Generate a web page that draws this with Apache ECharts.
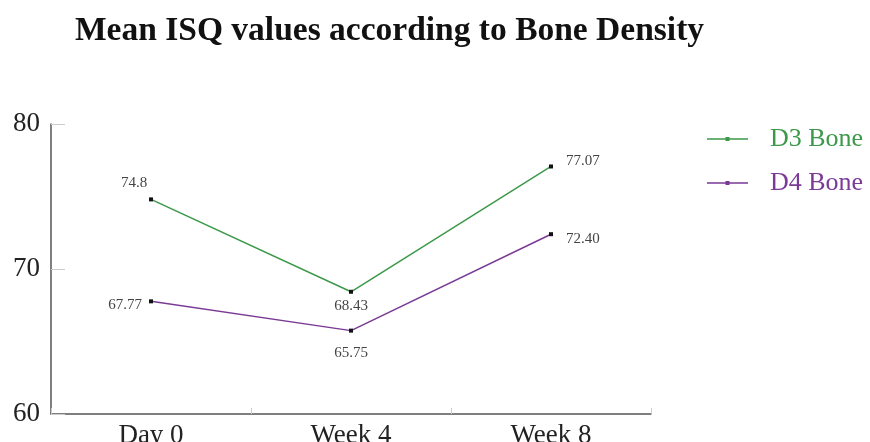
<!DOCTYPE html>
<html>
<head>
<meta charset="utf-8">
<script src="https://cdn.jsdelivr.net/npm/echarts@6/dist/echarts.min.js"></script>
<style>
  html, body { margin: 0; padding: 0; background: #fff; }
  #chart { width: 870px; height: 442px; }
</style>
</head>
<body>
<div id="chart"></div>
<script>
// Time points and mean ISQ per bone density class (labels kept as printed)
const categories = ['Day 0', 'Week 4', 'Week 8'];
const d3Labels = ['74.8', '68.43', '77.07'];
const d4Labels = ['67.77', '65.75', '72.40'];
const yTicks = [60, 70, 80];

const SERIF = "'Liberation Serif', 'Times New Roman', serif";
const GREEN = '#3c994a';
const PURPLE = '#7a3a96';

// legend glyph: thin line with a small square in the middle
const LEGEND_ICON = 'path://M0,1.25 H41 V2.75 H0 Z M18.5,0 H22.5 V4 H18.5 Z';

// label placement per point
const d3Pos = [
  { position: 'top', offset: [-17, -2] },
  { position: 'bottom', offset: [0, 0] },
  { position: 'right', offset: [8, -5] }
];
const d4Pos = [
  { position: 'left', offset: [-2, 4] },
  { position: 'bottom', offset: [0, 8] },
  { position: 'right', offset: [8, 5] }
];

function buildData(labels, pos) {
  return labels.map((txt, i) => ({
    value: parseFloat(txt),
    itemStyle: { color: '#111' },
    label: Object.assign({ formatter: txt }, pos[i])
  }));
}

const chart = echarts.init(document.getElementById('chart'), null, { renderer: 'canvas' });

chart.setOption({
  animation: false,
  backgroundColor: '#fff',
  title: {
    text: 'Mean ISQ values according to Bone Density',
    left: 70,
    top: 9,
    textStyle: {
      fontFamily: SERIF,
      fontWeight: 'bold',
      fontSize: 33.5,
      color: '#111'
    }
  },
  legend: {
    orient: 'vertical',
    left: 707,
    top: 126,
    padding: 0,
    itemWidth: 41,
    itemHeight: 4,
    itemGap: 18,
    icon: LEGEND_ICON,
    data: [
      { name: 'D3 Bone', textStyle: { color: GREEN } },
      { name: 'D4 Bone', textStyle: { color: PURPLE } }
    ],
    textStyle: {
      fontFamily: SERIF,
      fontSize: 26,
      padding: [0, 0, 0, 17]
    }
  },
  grid: {
    left: 51,
    right: 219,
    top: 124,
    bottom: 28,
    containLabel: false,
    outerBoundsMode: 'none'
  },
  xAxis: {
    type: 'category',
    data: categories,
    boundaryGap: true,
    axisLine: { lineStyle: { color: '#555', width: 1.5 } },
    axisTick: { show: true, inside: true, length: 6, lineStyle: { color: '#ccc' } },
    axisLabel: {
      fontFamily: SERIF,
      fontSize: 27,
      color: '#222',
      margin: 8
    },
    splitLine: { show: false }
  },
  yAxis: {
    type: 'value',
    min: yTicks[0],
    max: yTicks[yTicks.length - 1],
    interval: yTicks[1] - yTicks[0],
    axisLine: { show: true, lineStyle: { color: '#555', width: 1.5 } },
    axisTick: { show: true, inside: true, length: 14, lineStyle: { color: '#ccc' } },
    axisLabel: {
      fontFamily: SERIF,
      fontSize: 27,
      color: '#222',
      margin: 11
    },
    splitLine: { show: false }
  },
  series: [
    {
      name: 'D3 Bone',
      type: 'line',
      data: buildData(d3Labels, d3Pos),
      symbol: 'rect',
      symbolSize: 4,
      itemStyle: { color: GREEN },
      lineStyle: { color: GREEN, width: 1.5 },
      label: {
        show: true,
        fontFamily: SERIF,
        fontSize: 15,
        color: '#444'
      }
    },
    {
      name: 'D4 Bone',
      type: 'line',
      data: buildData(d4Labels, d4Pos),
      symbol: 'rect',
      symbolSize: 4,
      itemStyle: { color: PURPLE },
      lineStyle: { color: PURPLE, width: 1.5 },
      label: {
        show: true,
        fontFamily: SERIF,
        fontSize: 15,
        color: '#444'
      }
    }
  ]
});
</script>
</body>
</html>
